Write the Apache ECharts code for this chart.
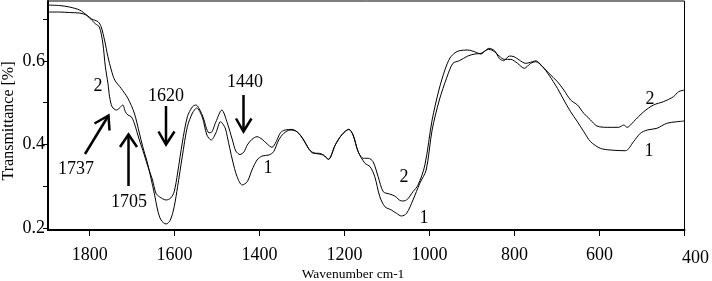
<!DOCTYPE html>
<html>
<head>
<meta charset="utf-8">
<script src="https://cdn.jsdelivr.net/npm/echarts@6/dist/echarts.min.js"></script>
<style>
  html, body { margin: 0; padding: 0; background: #fff; }
  #chart { width: 712px; height: 281px; }
</style>
</head>
<body>
<div id="chart"></div>
<script>
// spectrum 1 (lower curve at 1440 / 1060 / 550)
var wave1 = [1898, 1870, 1847, 1823, 1807, 1795, 1780, 1773, 1765, 1757, 1749, 1741, 1726, 1710, 1695, 1683, 1675,
  1664, 1648, 1640, 1632, 1620, 1610, 1601, 1593, 1582, 1570, 1558, 1548, 1535, 1524, 1514, 1503, 1492, 1481, 1476,
  1464, 1453, 1441, 1429, 1418, 1406, 1394, 1378, 1367, 1355, 1343, 1328, 1312, 1296, 1285, 1273, 1261, 1250, 1238,
  1222, 1207, 1190, 1180, 1168, 1152, 1140, 1129, 1117, 1105, 1090, 1078, 1066, 1054, 1039, 1023, 1008, 994, 977,
  959, 945, 930, 910, 894, 879, 861, 847, 836, 824, 809, 793, 777, 762, 750, 734, 719, 699, 684, 668, 652, 637, 621,
  598, 575, 539, 520, 504, 488, 465, 442, 418, 400];
var trans1 = [0.7175, 0.7175, 0.7163, 0.715, 0.710, 0.7007, 0.6942, 0.6822, 0.6504, 0.6103, 0.5784, 0.5544, 0.5345,
  0.5105, 0.4753, 0.4273, 0.3945, 0.3554, 0.2834, 0.2427, 0.2187, 0.2091, 0.2187, 0.2506, 0.2986, 0.3705, 0.4425,
  0.4753, 0.4873, 0.4657, 0.4225, 0.4106, 0.4273, 0.4544, 0.4393, 0.4185, 0.3626, 0.3226, 0.3027, 0.3106, 0.3386,
  0.3626, 0.3722, 0.3746, 0.3825, 0.4106, 0.4266, 0.4345, 0.4305, 0.4106, 0.3907, 0.3787, 0.3787, 0.3746, 0.3643,
  0.3986, 0.4225, 0.4362, 0.4225, 0.3825, 0.3547, 0.3466, 0.3226, 0.2746, 0.2506, 0.2427, 0.2347, 0.2283, 0.2347,
  0.2667, 0.3067, 0.3386, 0.4345, 0.5065, 0.5616, 0.5945, 0.6007, 0.612, 0.6168, 0.6185, 0.628, 0.6223, 0.612,
  0.604, 0.604, 0.5945, 0.5825, 0.5945, 0.5983, 0.5863, 0.5664, 0.5345, 0.5065, 0.4784, 0.4544, 0.4305, 0.4065,
  0.3906, 0.3866, 0.3849, 0.4065, 0.4266, 0.4345, 0.4386, 0.4506, 0.4544, 0.4561];

// spectrum 2 (with the 1737 / 1705 features)
var wave2 = [1898, 1870, 1847, 1823, 1807, 1795, 1786, 1777, 1769, 1763, 1757, 1753, 1747, 1737, 1730, 1722, 1716,
  1710, 1702, 1695, 1683, 1675, 1664, 1652, 1644, 1636, 1620, 1609, 1601, 1593, 1582, 1570, 1558, 1550, 1535, 1519,
  1514, 1503, 1489, 1476, 1464, 1456, 1446, 1437, 1429, 1418, 1406, 1394, 1382, 1371, 1361, 1351, 1340, 1324, 1308,
  1292, 1281, 1269, 1250, 1238, 1222, 1207, 1190, 1180, 1168, 1156, 1144, 1133, 1121, 1109, 1094, 1082, 1066, 1054,
  1039, 1027, 1011, 994, 978, 964, 952, 940, 930, 910, 894, 879, 867, 860, 847, 836, 826, 812, 801, 789, 774, 758,
  750, 734, 719, 699, 684, 668, 652, 637, 621, 606, 582, 555, 543, 535, 520, 496, 473, 450, 426, 414, 400];
var trans2 = [0.7343, 0.733, 0.7295, 0.722, 0.710, 0.698, 0.689, 0.6815, 0.643, 0.586, 0.547, 0.514, 0.490, 0.4825,
  0.487, 0.4945, 0.4785, 0.4705, 0.4665, 0.451, 0.4105, 0.3865, 0.3505, 0.3146, 0.283, 0.2746, 0.2667, 0.2715,
  0.2866, 0.3314, 0.4034, 0.4664, 0.4904, 0.4945, 0.4706, 0.428, 0.4285, 0.4537, 0.4825, 0.4513, 0.4106, 0.3842,
  0.3758, 0.3818, 0.3986, 0.4122, 0.4185, 0.4122, 0.401, 0.393, 0.4065, 0.428, 0.4345, 0.436, 0.4266, 0.4026, 0.385,
  0.3786, 0.3746, 0.3643, 0.3986, 0.4225, 0.4362, 0.4225, 0.3825, 0.3667, 0.3667, 0.3585, 0.3226, 0.2866, 0.281,
  0.2763, 0.2643, 0.2667, 0.2866, 0.3027, 0.3506, 0.4585, 0.5304, 0.5784, 0.6072, 0.62, 0.6247, 0.6264, 0.6223,
  0.6168, 0.6264, 0.6305, 0.6247, 0.6065, 0.6007, 0.612, 0.6103, 0.6024, 0.5945, 0.5983, 0.6007, 0.5863, 0.5705,
  0.5504, 0.5304, 0.5065, 0.4945, 0.4746, 0.4585, 0.4441, 0.441, 0.441, 0.4465, 0.441, 0.4544, 0.4784, 0.4945,
  0.5024, 0.5144, 0.5264, 0.5305];

var xTicks = [400, 600, 800, 1000, 1200, 1400, 1600, 1800];
var yTicks = [0.2, 0.3, 0.4, 0.5, 0.6, 0.7];
var yLabels = [0.2, 0.4, 0.6];

var font = 'Liberation Serif, Times New Roman, serif';

function pairs(xs, ys) {
  var out = [];
  for (var i = 0; i < xs.length; i++) out.push([xs[i], ys[i]]);
  return out;
}

function label(text, x, y) {
  return {
    type: 'text', x: x, y: y,
    style: { text: text, fontFamily: font, fontSize: 18, fill: '#000', align: 'center', verticalAlign: 'middle' }
  };
}
function arrow(points, head) {
  return [
    { type: 'polyline', shape: { points: points }, style: { stroke: '#000', lineWidth: 2.5, fill: null } },
    { type: 'polyline', shape: { points: head }, style: { stroke: '#000', lineWidth: 2.5, fill: null } }
  ];
}

var chart = echarts.init(document.getElementById('chart'));

var graphics = [
  {
    type: 'text', x: 9, y: 121, rotation: Math.PI / 2,
    style: { text: 'Transmittance [%]', fontFamily: font, fontSize: 16, fill: '#000', align: 'center', verticalAlign: 'middle' }
  },
  {
    type: 'text', x: 353, y: 274,
    style: { text: 'Wavenumber cm-1', fontFamily: font, fontSize: 13.5, fill: '#000', align: 'center', verticalAlign: 'middle' }
  },
  label('2', 98, 86),
  label('1737', 76, 169),
  label('1705', 129, 202),
  label('1620', 166, 96),
  label('1440', 245, 82),
  label('1', 268, 168),
  label('2', 404, 177),
  label('1', 424, 218),
  label('2', 650, 99),
  label('1', 649, 151)
].concat(
  arrow([[85, 154], [108.5, 115.5]], [[94.5, 123.5], [108.5, 115.5], [109.5, 130.5]]),
  arrow([[128.5, 186], [128.5, 135]], [[120, 147], [128.5, 134.5], [137, 147]]),
  arrow([[166, 106], [166, 144]], [[158.5, 131.5], [166, 144.5], [174.5, 131.5]]),
  arrow([[243.5, 95], [243.5, 131]], [[236, 118.5], [243.5, 131.5], [251.5, 118.5]])
);

var option = {
  animation: false,
  backgroundColor: '#fff',
  grid: {
    left: 48, right: 24, top: 1, bottom: 51,
    show: true, borderColor: '#000', borderWidth: 1
  },
  xAxis: {
    type: 'value',
    inverse: true,
    min: 400,
    max: 1898,
    splitLine: { show: false },
    axisLine: { show: true, onZero: false, lineStyle: { color: '#000', width: 2 } },
    axisTick: { show: true, length: 6, lineStyle: { color: '#000', width: 1 }, customValues: xTicks },
    axisLabel: {
      color: '#000', fontFamily: font, fontSize: 18, margin: 16,
      customValues: xTicks,
      formatter: function (v) { return v === 400 ? '{r|400}' : String(v); },
      rich: { r: { fontFamily: font, fontSize: 18, color: '#000', padding: [3, 0, 0, 22] } }
    }
  },
  yAxis: {
    type: 'value',
    min: 0.1947,
    max: 0.744,
    splitLine: { show: false },
    axisLine: { show: true, onZero: false, lineStyle: { color: '#000', width: 2 } },
    axisTick: { show: true, length: 5, lineStyle: { color: '#000', width: 1 }, customValues: yTicks },
    axisLabel: {
      color: '#000', fontFamily: font, fontSize: 18, margin: 3,
      customValues: yLabels,
      formatter: function (v) { return v.toFixed(1); }
    }
  },
  series: [
    {
      name: '1', type: 'line', showSymbol: false, smooth: 0.3,
      lineStyle: { color: '#000', width: 1 },
      data: pairs(wave1, trans1)
    },
    {
      name: '2', type: 'line', showSymbol: false, smooth: 0.3,
      lineStyle: { color: '#000', width: 1 },
      data: pairs(wave2, trans2)
    }
  ],
  graphic: graphics
};

chart.setOption(option);
</script>
</body>
</html>
